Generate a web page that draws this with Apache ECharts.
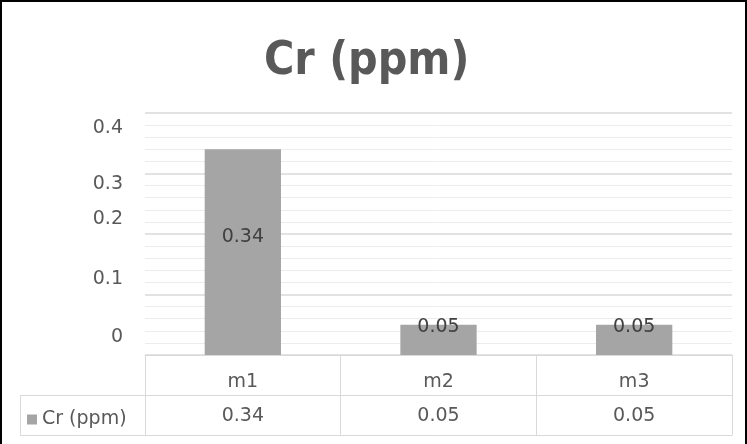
<!DOCTYPE html>
<html>
<head>
<meta charset="utf-8">
<script src="https://cdn.jsdelivr.net/npm/echarts@6/dist/echarts.min.js"></script>
<style>
html,body{margin:0;padding:0;background:#fff;}
#wrap{width:747px;height:444px;box-sizing:border-box;border:2px solid #000;border-bottom:none;position:relative;}
#chart{position:absolute;left:-2px;top:-2px;width:747px;height:444px;}
</style>
</head>
<body>
<div id="wrap"><div id="chart"></div></div>
<script>
const title = 'Cr (ppm)';
const seriesName = 'Cr (ppm)';
const categories = ['m1', 'm2', 'm3'];
const values = [0.34, 0.05, 0.05];
const yTicks = [0, 0.1, 0.2, 0.3, 0.4];

const txt = '#595959';
const lineC = '#d9d9d9';
const font = 'DejaVu Sans';
const fs = 19;

// vertical shift (px) of each y tick label as it appears in the reference
const yShift = [-18, -15, -15, 11, 15];
const rich = {};
yTicks.forEach((t, i) => {
  const s = yShift[i];
  rich['l' + i] = {
    color: txt, fontSize: fs, fontFamily: font,
    padding: s < 0 ? [0, 0, -2 * s, 0] : [2 * s, 0, 0, 0]
  };
});

const chart = echarts.init(document.getElementById('chart'));
chart.setOption({
  animation: false,
  title: {
    text: title, left: 259, top: 34,
    textStyle: { color: txt, fontSize: 46, fontWeight: 'bold', fontFamily: "'DejaVu Sans Condensed', 'DejaVu Sans'" }
  },
  legend: {
    data: [seriesName], left: 22, top: 405, icon: 'rect', itemWidth: 10, itemHeight: 10, itemGap: 6,
    textStyle: { color: txt, fontSize: fs, fontFamily: font }
  },
  grid: { left: 145, right: 15, top: 113, bottom: 89 },
  xAxis: [
    {
      type: 'category', data: categories, position: 'bottom',
      axisLine: { lineStyle: { color: lineC } },
      axisTick: { show: true, inside: false, length: 80, alignWithLabel: false, lineStyle: { color: lineC } },
      axisLabel: { color: txt, fontSize: fs, fontFamily: font, margin: 18 }
    },
    {
      type: 'category', data: values.map(v => String(v)), position: 'bottom', offset: 40,
      axisLine: { lineStyle: { color: lineC } }, axisTick: { show: false },
      axisLabel: { color: txt, fontSize: fs, fontFamily: font, margin: 12 }
    },
    {
      type: 'category', data: categories, position: 'bottom', offset: 80,
      axisLine: { lineStyle: { color: lineC } }, axisTick: { show: false },
      axisLabel: { show: false }
    }
  ],
  yAxis: {
    type: 'value', min: 0, max: 0.4, interval: 0.1,
    axisLine: { show: false }, axisTick: { show: false },
    axisLabel: {
      margin: 22,
      formatter: (v) => '{l' + yTicks.indexOf(Math.round(v * 10) / 10) + '|' + v + '}',
      rich: rich
    },
    splitLine: { lineStyle: { color: lineC, width: 1.5 } },
    minorTick: { show: false, splitNumber: 5 },
    minorSplitLine: { show: true, lineStyle: { color: '#ececec' } }
  },
  graphic: [
    { type: 'line', shape: { x1: 20, y1: 395.5, x2: 145, y2: 395.5 }, style: { stroke: lineC } },
    { type: 'line', shape: { x1: 20, y1: 435.5, x2: 145, y2: 435.5 }, style: { stroke: lineC } },
    { type: 'line', shape: { x1: 20.5, y1: 395, x2: 20.5, y2: 435 }, style: { stroke: lineC } }
  ],
  series: [{
    name: seriesName, type: 'bar', xAxisIndex: 0, barWidth: '39%',
    itemStyle: { color: '#a5a5a5' },
    label: { show: true, color: '#404040', fontSize: fs, fontFamily: font },
    data: values.map((v, i) => ({
      value: v,
      label: i === 0 ? { position: 'inside', offset: [0, -15] } : { position: 'top', distance: -12 }
    }))
  }]
});
</script>
</body>
</html>
